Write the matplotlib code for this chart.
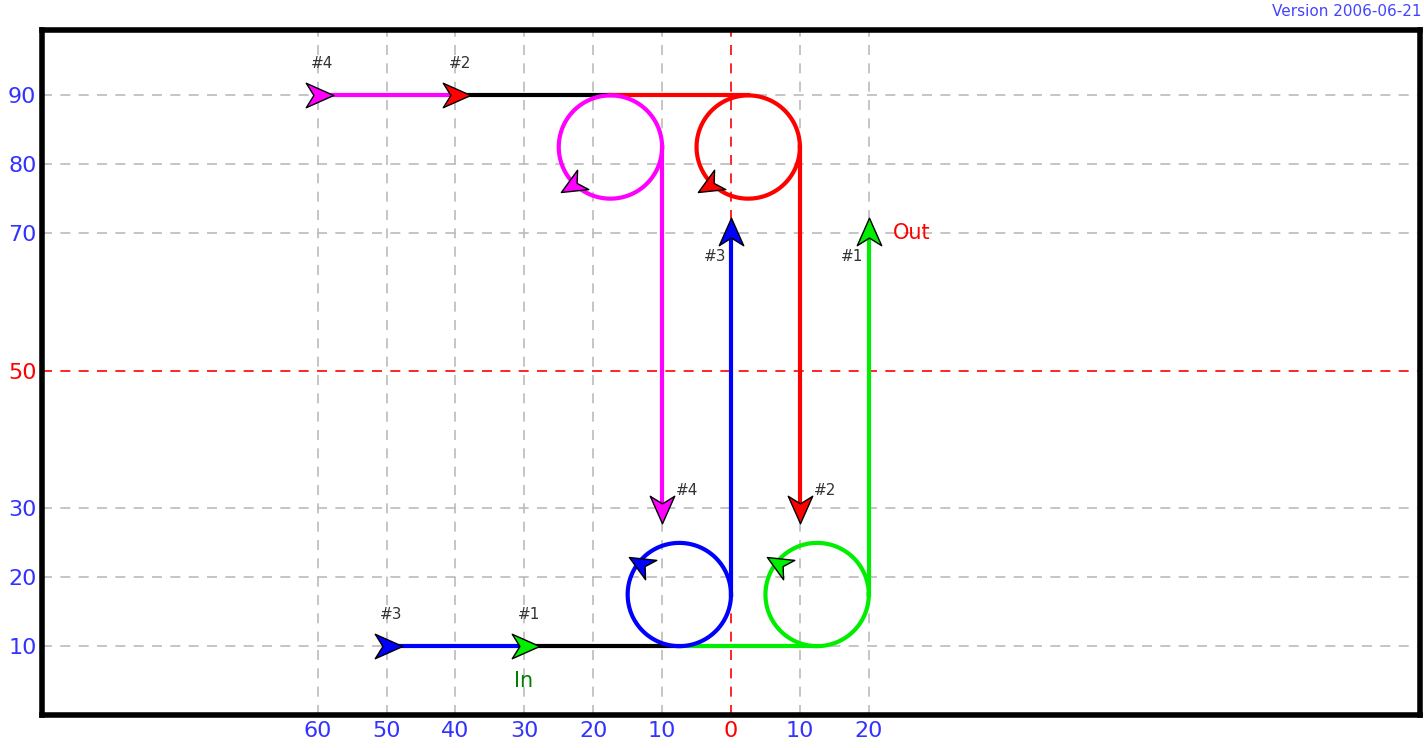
import numpy as np
import matplotlib
matplotlib.use("Agg")
from matplotlib import pyplot as plt
from matplotlib.path import Path

# x ticks shown as absolute values, y ticks
x_ticks = [-60, -50, -40, -30, -20, -10, 0, 10, 20]
y_ticks = [10, 20, 30, 50, 70, 80, 90]

# paths: entry arrow x, y level, loop centre, exit x, exit end y
names = ["#1", "#3", "#2", "#4"]
colors = ["#00ee00", "#0000ff", "#ff0000", "#ff00ff"]
start_x = [-30, -50, -40, -60]
level_y = [10, 10, 90, 90]
loop_cx = [12.5, -7.5, 2.5, -17.5]
loop_cy = [17.5, 17.5, 82.5, 82.5]
radius = 7.5
exit_x = [20, 0, 10, -10]
exit_end = [70, 70, 30, 30]
loop_arrow = [(7, 22), (-13, 22), (-3, 77), (-23, 77)]
loop_arrow_angle = [150, 150, 210, 210]

# shared straight feeders: (y, x from, x to, colour)
feeders = [(10, -50, -30, colors[1]), (10, -30, -7.5, "black"), (10, -7.5, 12.5, colors[0]),
           (90, -60, -40, colors[3]), (90, -40, -17.5, "black"), (90, -17.5, 2.5, colors[2])]

fig = plt.figure(figsize=(14.24, 7.48), dpi=100)
ax = fig.add_axes([42 / 1424, 33 / 748, 1378 / 1424, 685 / 748])
ax.set_xlim(-100, 100)
ax.set_ylim(0, 99.5)

for x in x_ticks:
    ax.axvline(x, color="red" if x == 0 else "#bbbbbb", ls=(0, (6, 5)), lw=1.2, zorder=0)
for y in range(10, 100, 10):
    if y in (40, 60):
        continue
    ax.axhline(y, color="red" if y == 50 else "#bbbbbb", ls=(0, (6, 5)), lw=1.2, zorder=0)


def dart(angle):
    verts = np.array([(1, 0), (-0.8, 0.8), (-0.3, 0), (-0.8, -0.8), (1, 0)])
    a = np.deg2rad(angle)
    R = np.array([[np.cos(a), -np.sin(a)], [np.sin(a), np.cos(a)]])
    return Path(verts @ R.T, [1, 2, 2, 2, 79])


for y0, x1, x2, c in feeders:
    ax.plot([x1, x2], [y0, y0], color=c, lw=3, zorder=1)

t = np.linspace(0, 2 * np.pi, 200)
for i in range(4):
    c = colors[i]
    ax.plot(loop_cx[i] + radius * np.cos(t), loop_cy[i] + radius * np.sin(t), color=c, lw=3, zorder=2)
    ax.plot([exit_x[i], exit_x[i]], [loop_cy[i], exit_end[i]], color=c, lw=3, zorder=2)
    ax.plot(start_x[i], level_y[i], marker=dart(0), ms=22, mfc=c, mec="black", mew=1, zorder=4)
    ax.plot(exit_x[i], exit_end[i], marker=dart(90 if exit_end[i] > 50 else -90),
            ms=22, mfc=c, mec="black", mew=1, zorder=4)
    ax.plot(loop_arrow[i][0], loop_arrow[i][1], marker=dart(loop_arrow_angle[i]),
            ms=22, mfc=c, mec="black", mew=1, zorder=4)

lbl = dict(fontsize=11, color="#333333")
for x, y, s in [(-61, 94, "#4"), (-41, 94, "#2"), (-51, 14, "#3"), (-31, 14, "#1"),
                (-4, 66, "#3"), (16, 66, "#1"), (-8, 32, "#4"), (12, 32, "#2")]:
    ax.text(x, y, s, **lbl)
ax.text(23.5, 70, "Out", color="red", fontsize=15, va="center")
ax.text(-31.5, 5, "In", color="green", fontsize=15, va="center")
fig.text(0.998, 0.995, "Version 2006-06-21", color="#4444ff", fontsize=11, ha="right", va="top")

ax.set_xticks(x_ticks)
ax.set_xticklabels([str(abs(x)) for x in x_ticks], fontsize=16)
ax.set_yticks(y_ticks)
ax.set_yticklabels([str(y) for y in y_ticks], fontsize=16)
for lab in ax.get_xticklabels():
    lab.set_color("red" if lab.get_text() == "0" else "#3333ff")
for lab in ax.get_yticklabels():
    lab.set_color("red" if lab.get_text() == "50" else "#3333ff")
ax.tick_params(length=0, pad=4)
for s in ax.spines.values():
    s.set_linewidth(4)

fig.savefig("out.png")
